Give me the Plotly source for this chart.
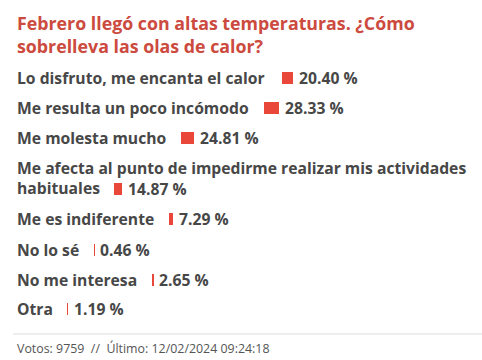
import plotly.graph_objects as go

# ---- data ----
title_text = "Febrero llegó con altas temperaturas. ¿Cómo<br>sobrelleva las olas de calor?"
labels = [
    "Lo disfruto, me encanta el calor",
    "Me resulta un poco incómodo",
    "Me molesta mucho",
    "Me afecta al punto de impedirme realizar mis actividades<br>habituales",
    "Me es indiferente",
    "No lo sé",
    "No me interesa",
    "Otra",
]
values = [20.40, 28.33, 24.81, 14.87, 7.29, 0.46, 2.65, 1.19]
footer_text = "Votos: 9759\u00a0 //\u00a0 Último: 12/02/2024 09:24:18"

# ---- layout helpers (pixels) ----
W, H = 482, 360
PX_PER_PCT = 0.52
row_y = [78, 108, 138, 188.5, 218.5, 249.5, 279.5, 309]
bar_start_px = [282, 264, 181, 114, 169, 94, 152, 67]
LEFT = 15
PCT_GAP = 4
LABEL_SIZE = 15.7

RED = "#e8473a"
TITLE_RED = "#cc4a3e"
TEXT = "#474747"
FONT = "Open Sans"

fig = go.Figure()
fig.add_trace(go.Bar(
    orientation="h",
    y=row_y,
    x=values,
    base=[s / PX_PER_PCT for s in bar_start_px],
    width=12,
    marker=dict(color=RED, line=dict(width=0)),
    hoverinfo="skip",
))

annotations = []
for lab, y, v, s in zip(labels, row_y, values, bar_start_px):
    nlines = lab.count("<br>") + 1
    annotations.append(dict(
        x=LEFT / PX_PER_PCT, y=y, xref="x", yref="y",
        text=f"<b>{lab}</b>", showarrow=False,
        xanchor="left", yanchor="middle" if nlines == 1 else "bottom",
        align="left",
        font=dict(family=FONT, size=LABEL_SIZE, color=TEXT),
        yshift=0 if nlines == 1 else -12.5,
    ))
    annotations.append(dict(
        x=s / PX_PER_PCT + v + PCT_GAP / PX_PER_PCT, y=y, xref="x", yref="y",
        text=f"<b>{v:.2f} %</b>", showarrow=False,
        xanchor="left", yanchor="middle",
        font=dict(family=FONT, size=LABEL_SIZE, color=TEXT),
    ))

annotations.append(dict(
    x=LEFT / W, y=1 - 34 / H, xref="paper", yref="paper",
    text=f"<b>{title_text}</b>", showarrow=False, xanchor="left", yanchor="middle",
    align="left", font=dict(family=FONT, size=17.8, color=TITLE_RED),
))
annotations.append(dict(
    x=LEFT / W, y=1 - 348 / H, xref="paper", yref="paper",
    text=footer_text, showarrow=False, xanchor="left", yanchor="middle",
    align="left", font=dict(family=FONT, size=12.4, color="#555555"),
))

fig.update_layout(
    width=W, height=H,
    margin=dict(l=0, r=0, t=0, b=0),
    paper_bgcolor="white", plot_bgcolor="white",
    showlegend=False,
    xaxis=dict(range=[0, W / PX_PER_PCT], visible=False, fixedrange=True),
    yaxis=dict(range=[H, 0], visible=False, fixedrange=True),
    annotations=annotations,
    shapes=[dict(type="line", xref="paper", yref="paper",
                 x0=13 / W, x1=1, y0=1 - 334 / H, y1=1 - 334 / H,
                 line=dict(color="#dddddd", width=1))],
    bargap=0,
)

fig.write_html(
    "out.html",
    config={"displayModeBar": False},
    post_script="document.body.style.margin='0';document.body.style.overflow='hidden';",
)
